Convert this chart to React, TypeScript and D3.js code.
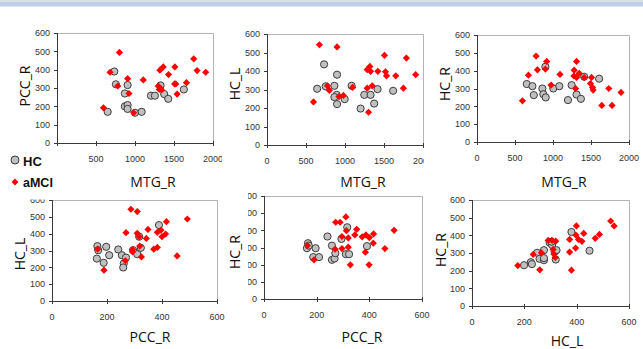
import { useEffect, useRef } from 'react';
import * as d3 from 'd3';

type Pt = [number, number];

const W = 643;
const H = 349;

const mtgTicks = [0, 500, 1000, 1500, 2000];
const volTicks = [0, 100, 200, 300, 400, 500, 600];
const pccTicks = [0, 200, 400, 600];

// MTG_R vs PCC_R
const hcMtgPcc: Pt[] = [
  [735, 390], [755, 320], [870, 270], [905, 316], [870, 200], [905, 207], [905, 186], [650, 170],
  [1000, 165], [1085, 170], [1205, 258], [1255, 258], [1328, 314], [1374, 267], [1426, 241], [1626, 292],
];
const amciMtgPcc: Pt[] = [
  [800, 494], [680, 386], [596, 192], [779, 311], [906, 351], [923, 270], [983, 165], [1106, 344],
  [1298, 311], [1311, 292], [1328, 298], [1340, 289], [1319, 397], [1362, 415], [1430, 373], [1511, 415],
  [1508, 322], [1523, 322], [1540, 267], [1660, 329], [1753, 459], [1796, 395], [1906, 386],
];

// MTG_R vs HC_L
const hcMtgHcl: Pt[] = [
  [732, 436], [643, 304], [753, 317], [864, 320], [898, 380], [894, 271], [864, 259], [898, 221],
  [996, 248], [1085, 320], [1200, 197], [1247, 271], [1328, 271], [1374, 224], [1417, 302], [1617, 293],
];
const amciMtgHcl: Pt[] = [
  [672, 542], [898, 530], [596, 233], [774, 320], [800, 295], [923, 262], [979, 268], [1098, 311],
  [1285, 307], [1302, 177], [1285, 407], [1319, 425], [1328, 398], [1349, 320], [1421, 398], [1506, 485],
  [1519, 396], [1532, 374], [1651, 374], [1749, 307], [1787, 470], [1906, 380],
];

// MTG_R vs HC_R
const hcMtgHcr: Pt[] = [
  [655, 325], [729, 313], [747, 263], [860, 300], [873, 268], [904, 250], [900, 422], [1004, 300],
  [1083, 313], [1197, 235], [1245, 319], [1310, 266], [1367, 242], [1410, 366], [1607, 355],
];
const amciMtgHcr: Pt[] = [
  [777, 482], [795, 405], [677, 375], [598, 231], [917, 452], [900, 409], [974, 319], [1092, 379],
  [1310, 452], [1279, 403], [1275, 370], [1310, 362], [1345, 385], [1297, 300], [1410, 362], [1507, 362],
  [1493, 328], [1520, 306], [1528, 291], [1642, 205], [1734, 300], [1777, 205], [1895, 278],
];

// PCC_R vs HC_L
const hcPccHcl: Pt[] = [
  [165, 326], [168, 302], [163, 252], [188, 227], [197, 322], [208, 272], [241, 306], [254, 272],
  [269, 258], [261, 223], [259, 199], [295, 302], [310, 278], [317, 382], [323, 316], [389, 451],
];
const amciPccHcl: Pt[] = [
  [166, 308], [189, 183], [269, 406], [287, 545], [310, 531], [310, 402], [317, 382], [319, 326],
  [325, 262], [293, 306], [293, 292], [267, 239], [343, 372], [349, 425], [370, 308], [383, 318],
  [383, 408], [396, 421], [400, 382], [413, 398], [416, 471], [455, 268], [492, 487],
];

// PCC_R vs HC_R
const hcPccHcr: Pt[] = [
  [163, 296], [167, 325], [170, 311], [196, 296], [187, 244], [209, 244], [241, 364], [258, 311],
  [258, 228], [268, 236], [271, 267], [294, 350], [311, 261], [323, 261], [316, 418], [391, 308],
];
const amciPccHcr: Pt[] = [
  [165, 311], [190, 228], [270, 290], [272, 447], [289, 447], [296, 364], [296, 294], [311, 478],
  [313, 398], [320, 356], [320, 302], [328, 199], [345, 373], [352, 406], [373, 362], [387, 373],
  [385, 273], [400, 358], [399, 199], [416, 379], [415, 325], [459, 294], [494, 400],
];

// HC_L vs HC_R
const hcHclHcr: Pt[] = [
  [199, 231], [225, 248], [229, 237], [249, 301], [258, 267], [275, 316], [275, 259], [275, 271],
  [297, 358], [306, 345], [304, 364], [316, 307], [323, 316], [320, 263], [380, 419], [449, 313],
];
const amciHclHcr: Pt[] = [
  [175, 229], [234, 292], [259, 205], [265, 301], [291, 371], [306, 371], [310, 320], [313, 294],
  [318, 275], [320, 367], [373, 377], [373, 305], [380, 203], [396, 328], [399, 453], [397, 402],
  [407, 377], [420, 366], [427, 411], [471, 383], [487, 405], [530, 481], [543, 453],
];

interface Panel {
  key: string;
  xTitle: string;
  yTitle: string;
  xTicks: number[];
  hc: Pt[];
  amci: Pt[];
  plot: [number, number, number, number];
  image: [number, number, number, number];
  xTitlePos: [number, number];
  yTitlePos: [number, number];
}

// drawn in this order: later images cover earlier ones
const panels: Panel[] = [
  {
    key: 'p1', xTitle: 'MTG_R', yTitle: 'PCC_R', xTicks: mtgTicks, hc: hcMtgPcc, amci: amciMtgPcc,
    plot: [57, 33, 213, 143], image: [0, 8, 222, 197], xTitlePos: [153, 187], yTitlePos: [25, 86],
  },
  {
    key: 'p2', xTitle: 'MTG_R', yTitle: 'HC_L', xTicks: mtgTicks, hc: hcMtgHcl, amci: amciMtgHcl,
    plot: [267, 34, 423, 145], image: [222, 8, 424, 197], xTitlePos: [363, 187], yTitlePos: [235, 84],
  },
  {
    key: 'p3', xTitle: 'MTG_R', yTitle: 'HC_R', xTicks: mtgTicks, hc: hcMtgHcr, amci: amciMtgHcr,
    plot: [477, 35, 629, 142], image: [424, 8, 643, 197], xTitlePos: [564, 187], yTitlePos: [445, 84],
  },
  {
    key: 'p5', xTitle: 'PCC_R', yTitle: 'HC_R', xTicks: pccTicks, hc: hcPccHcr, amci: amciPccHcr,
    plot: [264, 196, 422, 299], image: [248, 189, 432, 349], xTitlePos: [362, 342], yTitlePos: [235, 252],
  },
  {
    key: 'p4', xTitle: 'PCC_R', yTitle: 'HC_L', xTicks: pccTicks, hc: hcPccHcl, amci: amciPccHcl,
    plot: [52, 200, 217, 301], image: [0, 199.5, 248, 349], xTitlePos: [150, 342], yTitlePos: [20, 254],
  },
  {
    key: 'p6', xTitle: 'HC_L', yTitle: 'HC_R', xTicks: pccTicks, hc: hcHclHcr, amci: amciHclHcr,
    plot: [472, 200, 629, 306], image: [432, 189, 643, 349], xTitlePos: [567, 346], yTitlePos: [441, 250],
  },
];

const TICK_FONT = "'Liberation Sans', Arial, sans-serif";
const TITLE_FONT = "'Open Sans', sans-serif";

function diamond(cx: number, cy: number, r: number): string {
  return `M${cx},${cy - r}L${cx + r},${cy}L${cx},${cy + r}L${cx - r},${cy}Z`;
}

export default function App() {
  const svgRef = useRef<SVGSVGElement>(null);

  useEffect(() => {
    if (!svgRef.current) return;
    const svg = d3.select(svgRef.current);
    svg.selectAll('*').remove();
    const defs = svg.append('defs');

    // light blue band at the top
    svg.append('rect').attr('x', 0).attr('y', 0).attr('width', W).attr('height', 2).attr('fill', '#d8e0ec');
    svg.append('rect').attr('x', 0).attr('y', 2).attr('width', W).attr('height', 4.5).attr('fill', '#bfcfe6');

    panels.forEach((p) => {
      const [ix0, iy0, ix1, iy1] = p.image;
      defs
        .append('clipPath')
        .attr('id', `clip-${p.key}`)
        .append('rect')
        .attr('x', ix0)
        .attr('y', iy0)
        .attr('width', ix1 - ix0)
        .attr('height', iy1 - iy0);

      const g = svg.append('g').attr('clip-path', `url(#clip-${p.key})`);
      g.append('rect')
        .attr('x', ix0)
        .attr('y', iy0)
        .attr('width', ix1 - ix0)
        .attr('height', iy1 - iy0)
        .attr('fill', '#fff');

      const [px0, py0, px1, py1] = p.plot;
      const xMax = p.xTicks[p.xTicks.length - 1];
      const x = d3.scaleLinear().domain([0, xMax]).range([px0, px1]);
      const y = d3.scaleLinear().domain([0, 600]).range([py1, py0]);

      // plot area border (top / right)
      g.append('path')
        .attr('d', `M${px0 + 0.5},${py0 + 0.5}H${px1 + 0.5}V${py1 + 0.5}`)
        .attr('fill', 'none')
        .attr('stroke', '#b4b4b4');

      // axes
      g.append('path')
        .attr('d', `M${px0 + 0.5},${py0}V${py1 + 0.5}H${px1 + 1}`)
        .attr('fill', 'none')
        .attr('stroke', '#3a3a3a');

      g.selectAll('.ytick')
        .data(volTicks)
        .join('line')
        .attr('x1', px0 - 3)
        .attr('x2', px0 + 0.5)
        .attr('y1', (d) => Math.round(y(d)) + 0.5)
        .attr('y2', (d) => Math.round(y(d)) + 0.5)
        .attr('stroke', '#3a3a3a');

      g.selectAll('.xtick')
        .data(p.xTicks)
        .join('line')
        .attr('x1', (d) => Math.round(x(d)) + 0.5)
        .attr('x2', (d) => Math.round(x(d)) + 0.5)
        .attr('y1', py1 - 2)
        .attr('y2', py1 + 3)
        .attr('stroke', '#3a3a3a');

      g.selectAll('.ylabel')
        .data(volTicks)
        .join('text')
        .attr('x', px0 - 7)
        .attr('y', (d) => y(d) + 3.3)
        .attr('text-anchor', 'end')
        .attr('font-family', TICK_FONT)
        .attr('font-size', 9)
        .attr('fill', '#333')
        .text((d) => String(d));

      g.selectAll('.xlabel')
        .data(p.xTicks)
        .join('text')
        .attr('x', (d) => x(d))
        .attr('y', py1 + 19)
        .attr('text-anchor', 'middle')
        .attr('font-family', TICK_FONT)
        .attr('font-size', 9)
        .attr('fill', '#333')
        .text((d) => String(d));

      g.append('g')
        .selectAll('circle')
        .data(p.hc)
        .join('circle')
        .attr('cx', (d) => x(d[0]))
        .attr('cy', (d) => y(d[1]))
        .attr('r', 3.6)
        .attr('fill', '#c0c0c0')
        .attr('stroke', '#3c3c3c')
        .attr('stroke-width', 1);

      g.append('g')
        .selectAll('path')
        .data(p.amci)
        .join('path')
        .attr('d', (d) => diamond(x(d[0]), y(d[1]), 3.6))
        .attr('fill', '#ff0000');
    });

    // legend on a white patch
    svg.append('rect').attr('x', 0).attr('y', 147.5).attr('width', 72).attr('height', 48).attr('fill', '#fff');
    svg.append('circle')
      .attr('cx', 15).attr('cy', 160).attr('r', 4)
      .attr('fill', '#c0c0c0').attr('stroke', '#3c3c3c').attr('stroke-width', 1);
    svg.append('text')
      .attr('x', 23).attr('y', 166)
      .attr('font-family', TICK_FONT).attr('font-weight', 700).attr('font-size', 13)
      .attr('fill', '#111').text('HC');
    svg.append('path').attr('d', diamond(15, 182, 3.4)).attr('fill', '#ff0000');
    svg.append('text')
      .attr('x', 23).attr('y', 187)
      .attr('font-family', TICK_FONT).attr('font-weight', 700).attr('font-size', 12.5)
      .attr('fill', '#111').text('aMCI');

    // axis titles sit on top of everything
    panels.forEach((p) => {
      svg.append('text')
        .attr('x', p.xTitlePos[0])
        .attr('y', p.xTitlePos[1])
        .attr('text-anchor', 'middle')
        .attr('font-family', TITLE_FONT)
        .attr('font-size', 14)
        .attr('fill', '#111')
        .text(p.xTitle);
      svg.append('text')
        .attr('transform', `translate(${p.yTitlePos[0]},${p.yTitlePos[1]}) rotate(-90)`)
        .attr('text-anchor', 'middle')
        .attr('dy', '0.35em')
        .attr('font-family', TITLE_FONT)
        .attr('font-size', 14)
        .attr('fill', '#111')
        .text(p.yTitle);
    });
  }, []);

  return (
    <svg
      ref={svgRef}
      width={W}
      height={H}
      style={{ position: 'absolute', left: 0, top: 0, background: '#fff' }}
    />
  );
}
